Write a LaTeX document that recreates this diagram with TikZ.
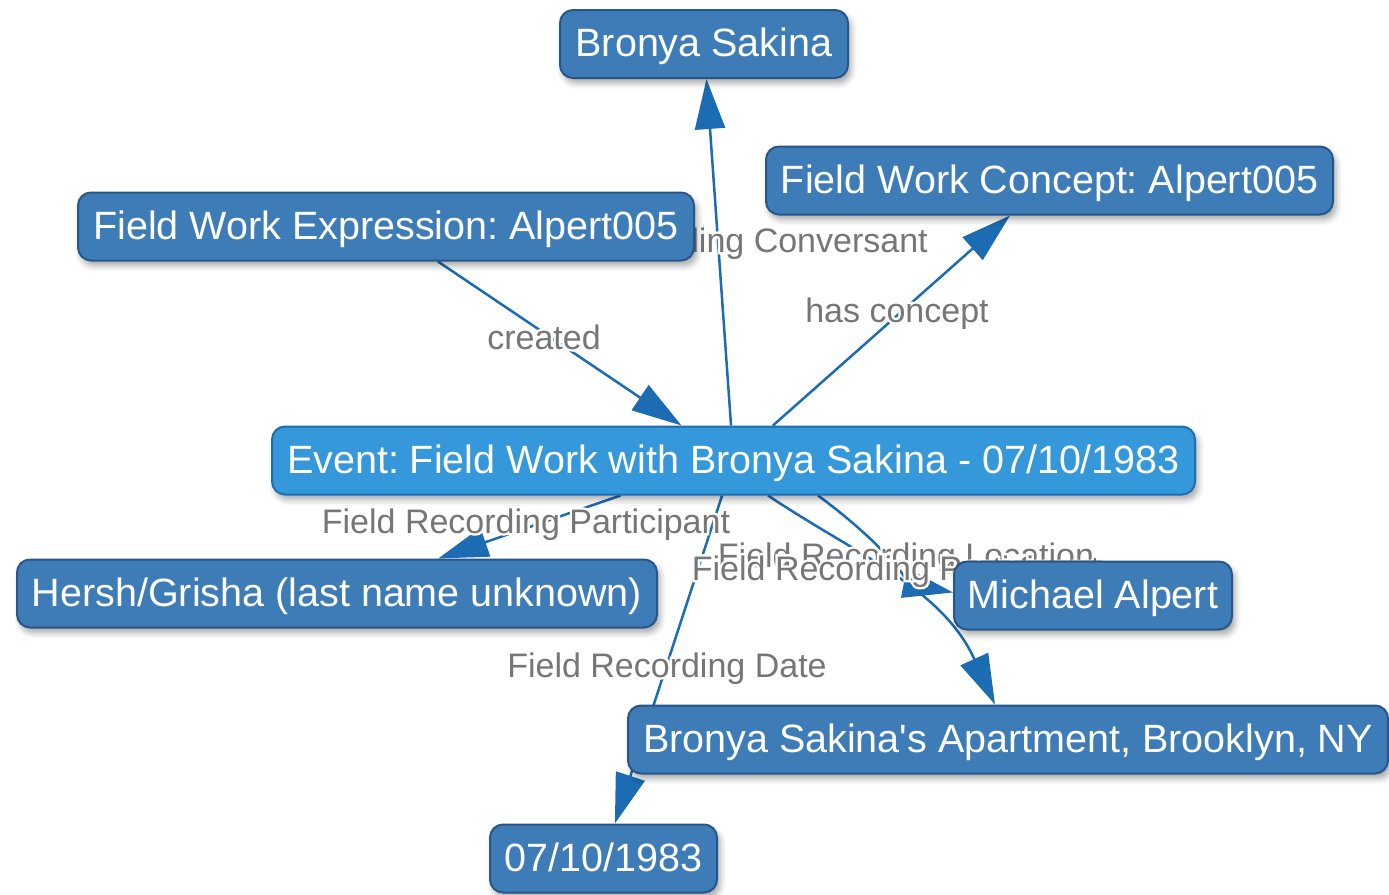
\documentclass[tikz,border=0pt]{standalone}
\usepackage{fontspec}
\usetikzlibrary{arrows.meta,shadows.blur}
\newfontfamily\basefont{Liberation Sans}
% stroked copy of the same face, used as a white halo behind relation names
\newfontfamily\halofont{Liberation Sans}[FakeBold=14]
\newcommand\halotext[1]{\makebox[0pt][l]{\halofont\color{white}#1}#1}
\frenchspacing

\definecolor{nodefill}{RGB}{62,124,184}
\definecolor{nodeedge}{RGB}{40,86,136}
\definecolor{hubfill}{RGB}{52,152,219}
\definecolor{hubedge}{RGB}{31,110,176}
\definecolor{linkcol}{RGB}{27,108,178}
\definecolor{tagcol}{RGB}{118,118,118}

\pgfdeclarelayer{edges}
\pgfdeclarelayer{labels}
\pgfsetlayers{edges,labels,main}

\begin{document}
\begin{tikzpicture}[x=1pt,y=-1pt,
  box/.style={draw=nodeedge, line width=2pt, fill=nodefill, rounded corners=13pt,
    text=white, minimum height=68pt, inner sep=0pt,
    font=\basefont\frenchspacing\fontsize{39.5}{44}\selectfont, text height=29pt, text depth=4pt,
    blur shadow={shadow xshift=3pt, shadow yshift=-5pt, shadow blur radius=6pt, shadow opacity=35}},
  hub/.style={box, draw=hubedge, fill=hubfill},
  link/.style={draw=linkcol, line width=2.5pt, -{Triangle[length=50pt,width=30pt]}},
  tag/.style={text=tagcol, font=\basefont\fontsize{34}{40}\selectfont, anchor=base, inner sep=0pt}]

\useasboundingbox (0,0) rectangle (1389,894);

% entity boxes
\node[box, minimum width=288pt] (bronya) at (704,44) {Bronya Sakina};
\node[box, minimum width=567pt] (concept) at (1049.5,180.5) {Field Work Concept: Alpert005};
\node[box, minimum width=616pt] (expr) at (386,226.5) {Field Work Expression: Alpert005};
\node[hub, minimum width=923pt] (event) at (733.5,460.5) {Event: Field Work with Bronya Sakina - 07/10/1983};
\node[box, minimum width=640pt] (hersh) at (337,593.5) {Hersh/Grisha (last name unknown)};
\node[box, minimum width=278pt] (michael) at (1093,595.5) {Michael Alpert};
\node[box, minimum width=760pt] (apt) at (1008,739.5) {Bronya Sakina's Apartment, Brooklyn, NY};
\node[box, minimum width=227pt] (date) at (603.5,858.5) {07/10/1983};

% relations
\begin{pgfonlayer}{edges}
\draw[link] (event) -- (bronya);
\draw[link] (expr) -- (event);
\draw[link] (event) -- (concept);
\draw[link] ([xshift=-113pt]event.south) -- (hersh);
\draw[link] (event) -- (date);
\draw[link] ([xshift=84.5pt]event.south) .. controls (880,541) and (915,585) .. ([yshift=3pt]michael.west);
\draw[link] ([xshift=34.5pt]event.south) .. controls (857,555) and (942,588) .. ([xshift=-13pt]apt.north);
\end{pgfonlayer}

% relation names
\begin{pgfonlayer}{labels}
\node[tag] (lconv) at (717,252) {\halotext{Field Recording Conversant}};
\node[tag] (lcreated) at (544,349) {\halotext{created}};
\node[tag] (lconcept) at (897,322) {\halotext{has concept}};
\node[tag] (lpart) at (526,533) {\halotext{Field Recording Participant}};
\node[tag] (lloc) at (906,567) {\halotext{Field Recording Location}};
\node[tag] (lpart2) at (896,580) {\halotext{Field Recording Participant}};
\node[tag] (ldate) at (667,677) {\halotext{Field Recording Date}};
\end{pgfonlayer}
\end{tikzpicture}
\end{document}
